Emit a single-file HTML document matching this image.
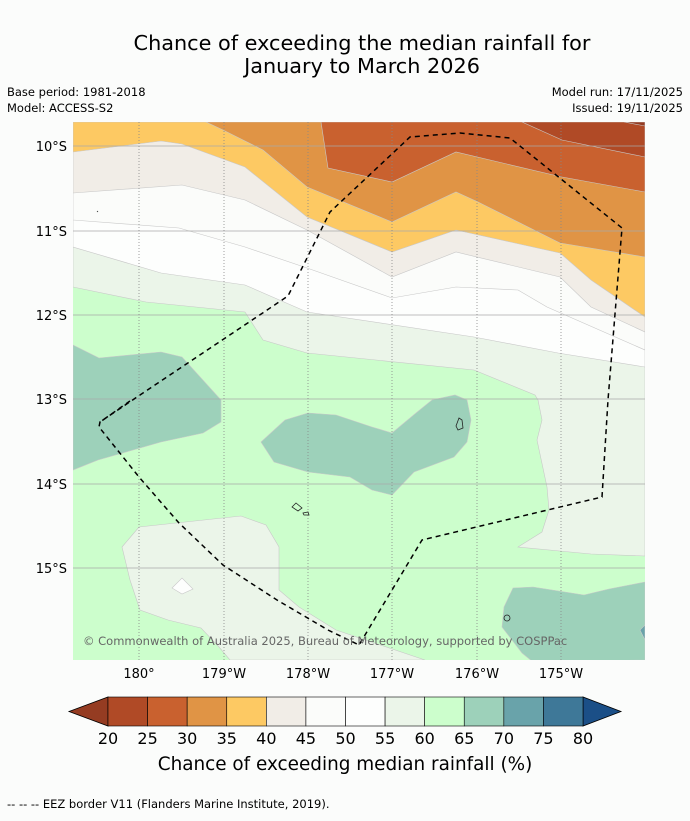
<!DOCTYPE html>
<html><head><meta charset="utf-8"><style>
body{margin:0;background:#fbfcfb;width:690px;height:816px;overflow:hidden;font-family:"Liberation Sans","DejaVu Sans",sans-serif}
</style></head><body>
<svg width="690" height="816" viewBox="0 0 690 816" xmlns="http://www.w3.org/2000/svg" font-family="DejaVu Sans, Liberation Sans, sans-serif">
<rect width="690" height="816" fill="#fbfcfb"/>
<text x="362" y="50" font-size="20.8" text-anchor="middle">Chance of exceeding the median rainfall for</text>
<text x="362" y="73" font-size="20.8" text-anchor="middle">January to March 2026</text>
<text x="7" y="96" font-size="11.5">Base period: 1981-2018</text>
<text x="7" y="112" font-size="11.5">Model: ACCESS-S2</text>
<text x="683" y="96" font-size="11.5" text-anchor="end">Model run: 17/11/2025</text>
<text x="683" y="112" font-size="11.5" text-anchor="end">Issued: 19/11/2025</text>
<defs><clipPath id="mc"><rect x="73" y="122" width="572" height="538"/></clipPath></defs>
<g clip-path="url(#mc)" stroke="#c8c8c8" stroke-width="0.6">
<rect x="73" y="122" width="572" height="538" fill="#ccfecc" stroke="none"/>
<polygon fill="#ebf5e9" points="73,122 645,122 645,556 591,554 518,547 542,532 549,510 547,487 537,440 542,420 538,400 535,395 474,370 307,353 263,340 245,312 146,302 73,287"/>
<polygon fill="#fdfefd" points="73,122 645,122 645,367 558,353 474,337 307,312 245,285 161,273 73,247"/>
<polygon fill="#fbfcfa" points="73,122 645,122 645,350 547,307 518,290 456,287 392,298 307,268 245,247 179,228 73,220"/>
<polygon fill="#f1ede7" points="73,122 645,122 645,332 591,307 560,277 456,252 392,277 307,230 245,200 182,185 73,193"/>
<polygon fill="#fdc963" points="73,122 645,122 645,317 591,280 560,253 456,230 392,252 307,217 245,167 182,144 161,141 73,152"/>
<polygon fill="#e09445" points="206,122 645,122 645,257 560,243 478,202 456,192 392,222 307,187 263,150 223,130"/>
<polygon fill="#c9612f" points="321,122 645,122 645,192 562,177 456,152 392,182 328,168"/>
<polygon fill="#b04a26" points="522,122 645,122 645,157 562,140"/>
<polygon fill="#953c22" points="624,122 645,122 645,126"/>
<polygon fill="#9dd1ba" points="73,345 99,358 161,352 182,357 221,400 221,422 203,433 161,442 98,460 73,470"/>
<polygon fill="#9dd1ba" points="261,442 285,420 308,413 336,415 372,427 392,433 416,413 432,400 455,395 467,400 471,420 467,442 454,457 414,472 392,495 372,490 350,477 308,472 274,462"/>
<polygon fill="#9dd1ba" points="504,607 513,588 533,587 584,595 609,589 645,582 645,660 533,662 522,653 502,627"/>
<polygon fill="#69a3aa" points="640,630 645,625 645,640"/>
<polygon fill="#ebf5e9" points="122,547 139,527 241,516 266,525 279,547 279,590 299,607 336,630 425,660 230,660 219,647 201,628 168,620 140,610 130,580"/>
<polygon fill="#fdfefd" points="172,588 182,578 193,589 182,594"/>
</g>
<g>
<g stroke="#a8a8a8" stroke-width="0.8">
<line x1="73" x2="645" y1="146" y2="146"/><line x1="73" x2="645" y1="231" y2="231"/><line x1="73" x2="645" y1="315" y2="315"/><line x1="73" x2="645" y1="399" y2="399"/><line x1="73" x2="645" y1="484" y2="484"/><line x1="73" x2="645" y1="568" y2="568"/>
</g>
<g stroke="#888" stroke-width="0.8" stroke-dasharray="1,2">
<line x1="139" x2="139" y1="122" y2="660"/><line x1="224" x2="224" y1="122" y2="660"/><line x1="308" x2="308" y1="122" y2="660"/><line x1="392" x2="392" y1="122" y2="660"/><line x1="477" x2="477" y1="122" y2="660"/><line x1="561" x2="561" y1="122" y2="660"/>
</g></g>
<g fill="none" stroke="#222" stroke-width="0.8">
<path d="M456,426 L459,418 L462,420 L463,428 L458,430 Z"/>
<path d="M292,507 L296,503 L302,508 L298,511 Z"/><path d="M303,513 L308,512 L309,515 L304,515 Z"/>
<circle cx="507" cy="618" r="3"/>
<line x1="97" y1="211" x2="98" y2="212"/>
</g>
<polyline fill="none" stroke="#000" stroke-width="1.5" stroke-dasharray="5,4" points="130,401 100,422 99,427 139,477 179,523 223,565 277,600 328,630 359,645 422,540 602,497 608,400 622,228 510,138 460,133 410,137 330,212 288,296 140,395 100,422"/>
<text x="83" y="645" font-size="11.5" fill="#666">© Commonwealth of Australia 2025, Bureau of Meteorology, supported by COSPPac</text>
<g font-size="13" text-anchor="end">
<text x="67" y="151">10°S</text><text x="67" y="236">11°S</text><text x="67" y="320">12°S</text><text x="67" y="404">13°S</text><text x="67" y="489">14°S</text><text x="67" y="573">15°S</text>
</g>
<g font-size="13" text-anchor="middle">
<text x="139" y="678">180°</text><text x="224" y="678">179°W</text><text x="308" y="678">178°W</text><text x="392" y="678">177°W</text><text x="477" y="678">176°W</text><text x="561" y="678">175°W</text>
</g>
<g id="cbar"></g>
<text x="345" y="770" font-size="18.4" text-anchor="middle">Chance of exceeding median rainfall (%)</text>
<text x="7" y="808" font-size="11.5">--  --  -- EEZ border V11 (Flanders Marine Institute, 2019).</text>
</svg>
<script>
const levels=[20,25,30,35,40,45,50,55,60,65,70,75,80];
const binColors=["#b04a26","#c9612f","#e09445","#fdc963","#f1ede7","#fbfcfa","#fdfefd","#ebf5e9","#ccfecc","#9dd1ba","#69a3aa","#3e7898"];
const underColor="#953c22", overColor="#1b4f87";
const NS="http://www.w3.org/2000/svg";
const g=document.getElementById('cbar');
const x0=108,x1=583,y0=697,y1=726;
const sx=v=>x0+(v-levels[0])/(levels[levels.length-1]-levels[0])*(x1-x0);
function mk(t,a){const e=document.createElementNS(NS,t);for(const k in a)e.setAttribute(k,a[k]);g.appendChild(e);return e;}
let u=mk('polygon',{points:`${x0},${y0} ${x0},${y1} 69,${(y0+y1)/2}`,fill:underColor,stroke:'#000','stroke-width':0.8});


let o=mk('polygon',{points:`${x1},${y0} ${x1},${y1} 621,${(y0+y1)/2}`,fill:overColor,stroke:'#000','stroke-width':0.8});


binColors.forEach((c,i)=>{
 const r=mk('rect',{x:sx(levels[i]),y:y0,width:sx(levels[i+1])-sx(levels[i]),height:y1-y0,fill:c,stroke:'#000','stroke-width':0.6});
 
 
});
levels.forEach(v=>{
 const t=mk('text',{x:sx(v),y:744,'font-size':16,'text-anchor':'middle'});
 t.textContent=v;
 
 
});
</script>
</body></html>
